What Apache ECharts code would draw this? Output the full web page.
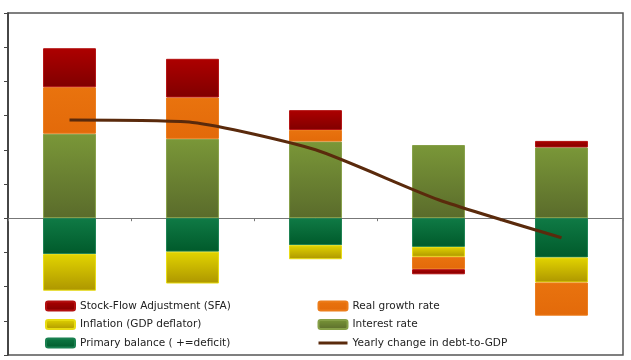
<!DOCTYPE html>
<html>
<head>
<meta charset="utf-8">
<script src="https://cdn.jsdelivr.net/npm/echarts@6/dist/echarts.min.js"></script>
<style>
  html, body { margin: 0; padding: 0; background: #fff; }
  #chart { width: 631px; height: 360px; }
</style>
</head>
<body>
<div id="chart"></div>
<script>
const categories = ['Y1', 'Y2', 'Y3', 'Y4', 'Y5']
const interestRate = [2.47, 2.32, 2.24, 2.14, 2.07]
const primaryBalance = [-1.05, -0.98, -0.79, -0.84, -1.15]
const inflation = [-1.07, -0.93, -0.41, -0.29, -0.73]
const realGrowth = [1.36, 1.21, 0.34, -0.36, -0.97]
const sfa = [1.14, 1.13, 0.58, -0.15, 0.19]
const debtChange = [2.87, 2.80, 2.00, 0.54, -0.57]

const grad = (top, bottom) => new echarts.graphic.LinearGradient(0, 0, 0, 1, [
    { offset: 0, color: top },
    { offset: 1, color: bottom }
])

const bar = (name, data, top, bottom, border) => ({
    name: name,
    type: 'bar',
    stack: 'total',
    data: data,
    barWidth: '43%',
    itemStyle: {
        color: grad(top, bottom),
        borderColor: border,
        borderWidth: 1
    },
    emphasis: { disabled: true }
})

const legendText = { fontFamily: 'DejaVu Sans', fontSize: 10.5, color: '#222', lineHeight: 14 }

const chart = echarts.init(document.getElementById('chart'))
chart.setOption({
    animation: false,
    grid: {
        left: 8, right: 8, top: 13, bottom: 5,
        show: true,
        borderColor: '#555',
        borderWidth: 1.5
    },
    legend: [
        {
            orient: 'vertical',
            left: 40, top: 294,
            itemWidth: 29, itemHeight: 9, itemGap: 4.5,
            icon: 'roundRect',
            textStyle: legendText,
            data: ['Stock-Flow Adjustment (SFA)', 'Inflation (GDP deflator)', 'Primary balance ( +=deficit)']
        },
        {
            orient: 'vertical',
            left: 312, top: 294,
            itemWidth: 29, itemHeight: 9, itemGap: 4.5,
            textStyle: legendText,
            data: [
                { name: 'Real growth rate', icon: 'roundRect' },
                { name: 'Interest rate', icon: 'roundRect' },
                { name: 'Yearly change in debt-to-GDP', itemStyle: { opacity: 0 }, lineStyle: { width: 3 } }
            ]
        }
    ],
    xAxis: {
        type: 'category',
        data: categories,
        axisLine: { onZero: true, lineStyle: { color: '#777', width: 1 } },
        axisTick: { show: true, length: 3, lineStyle: { color: '#777' } },
        axisLabel: { show: false }
    },
    yAxis: {
        type: 'value',
        min: -4,
        max: 6,
        interval: 1,
        axisLine: { show: true, lineStyle: { color: '#333', width: 1.5 } },
        axisTick: { show: true, length: 4, lineStyle: { color: '#444' } },
        axisLabel: { show: false },
        splitLine: { show: false }
    },
    series: [
        bar('Interest rate', interestRate, '#7a9738', '#5a6b2b', '#86a048'),
        bar('Primary balance ( +=deficit)', primaryBalance, '#0f7a45', '#005a2b', '#1a8050'),
        bar('Inflation (GDP deflator)', inflation, '#e2d400', '#ad9600', '#e8dc10'),
        bar('Real growth rate', realGrowth, '#e9730e', '#e36a0a', '#ec7c1a'),
        bar('Stock-Flow Adjustment (SFA)', sfa, '#ad0000', '#800000', '#b31010'),
        {
            name: 'Yearly change in debt-to-GDP',
            type: 'line',
            data: debtChange,
            smooth: 0.2,
            symbol: 'none',
            z: 5,
            lineStyle: { color: '#5a2a0c', width: 3 },
            itemStyle: { color: '#5a2a0c' },
            emphasis: { disabled: true }
        }
    ]
})
</script>
</body>
</html>
